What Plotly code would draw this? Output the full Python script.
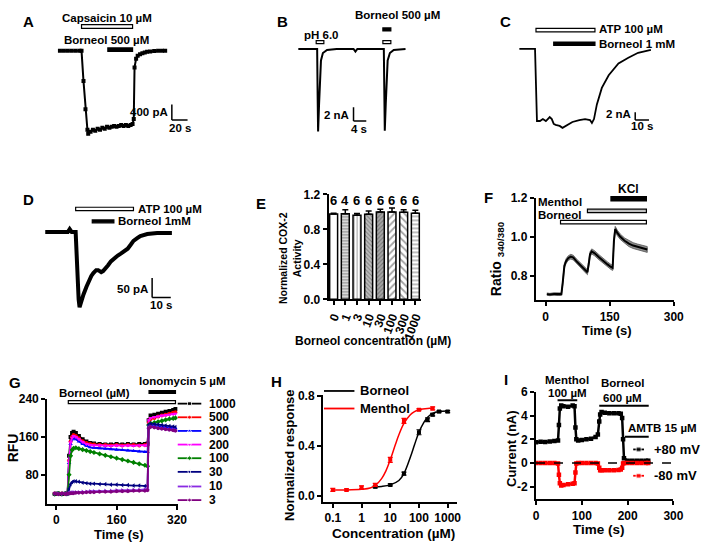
import plotly.graph_objects as go

W, H = 708, 550
FONT = "Arial, 'Liberation Sans', sans-serif"


def PX(x):
    return x / W


def PY(y):
    return 1 - y / H


# ---------------- Data ----------------
# Panel A : capsaicin current (s, pA)
A_time = [10, 15, 20, 25, 30, 35, 37.5, 40, 42.5, 45, 46, 49, 52, 55, 58, 61, 64, 67, 70, 73, 76,
          79, 82, 85, 88, 91, 94, 97, 100, 102.5, 104, 105, 107, 109, 112, 115, 118, 121, 125, 130,
          135, 140, 144]
A_current = [0, 0, 0, 0, 0, 0, 0, -775, -1500, -2025, -2125, -2075, -2025, -2050, -2000, -2025,
             -1975, -2000, -1950, -1975, -1950, -1925, -1950, -1925, -1900, -1925, -1900, -1925,
             -1900, -1875, -1750, -425, -200, -125, -90, -60, -40, -25, -15, -5, 0, 5, 5]
A_capsaicin = [37.5, 102.5]
A_borneol = [71, 102.5]

# Panel B : pH 6.0 current (s, nA)
B_time = [1.8, 7.7, 7.85, 8.0, 8.3, 8.6, 8.9, 9.5, 10.8, 13.8, 19.1, 19.7, 20.3, 28.6, 28.75,
          28.9, 29.2, 29.5, 29.8, 30.5, 31.7, 35.4]
B_current = [0, 0, -6.7, -12.1, -8.1, -3.9, -1.7, -0.6, -0.15, 0, 0, -0.4, 0, 0, -6.7, -12.0,
             -8.1, -3.9, -1.7, -0.6, -0.15, 0]
B_ph = [7.4, 9.8]
B_borneol = [28.3, 30.8]

# Panel C : ATP current (s, nA)
C_time = [4.3, 15.7, 16.4, 17.1, 19.3, 21.4, 23.6, 26.4, 27.9, 29.3, 30.7, 33.6, 35.7, 37.9,
          42.9, 47.9, 52.1, 55.7, 57.1, 58.6, 60.7, 64.3, 69.3, 76.4, 83.6, 90.7, 100]
C_current = [0, 0, -9.25, -18.5, -18.5, -18, -18.5, -17.5, -18, -19.25, -19.5, -19.75, -20.25,
             -19.75, -18.75, -18.25, -18, -18.25, -19, -18, -14.25, -10, -6.75, -3.75, -2.25, -1,
             -0.25]
C_atp = [16.4, 59.3]
C_borneol = [29.3, 59.3]

# Panel D : ATP current (s, pA)
D_time = [1.6, 7.9, 13.7, 14.7, 15.8, 17.9, 18.4, 19.5, 20.0, 21.1, 22.1, 23.7, 24.7, 26.3,
          27.4, 28.9, 30.0, 31.6, 32.6, 34.2, 35.3, 36.8, 38.4, 40.5, 42.1, 44.2, 45.8, 47.4,
          48.9, 51.1, 52.6, 56.3, 61.6, 69.5]
D_current = [0, 0, 0, 7.5, 0, 0, -72.5, -172.5, -192.5, -172.5, -160, -140, -127.5, -112.5,
             -105, -97.5, -97.5, -102.5, -100, -92.5, -85, -75, -67.5, -60, -55, -47.5, -42.5,
             -32.5, -22.5, -15, -10, -5, -2.5, -2.5]
D_atp = [17.9, 48.9]
D_borneol = [26.8, 38.4]

# Panel E : COX-2 activity
E_conc = ["0", "1", "3", "10", "30", "100", "300", "1000"]
E_activity = [0.975, 0.98, 0.963, 0.974, 1.0, 1.0, 0.996, 0.985]
E_sem = [0.01, 0.045, 0.02, 0.035, 0.03, 0.045, 0.03, 0.035]
E_n = [6, 4, 6, 6, 6, 6, 6, 6]

# Panel F : Ratio 340/380
F_time = [3, 10, 20, 30, 37, 40, 44, 48, 53, 59, 65, 72, 80, 88, 96, 98, 101, 104, 108, 115,
          125, 135, 145, 153, 157, 160, 163, 168, 175, 185, 195, 205, 215, 225, 238]
F_ratio = [0.705, 0.703, 0.706, 0.704, 0.705, 0.76, 0.85, 0.875, 0.89, 0.898, 0.893, 0.875,
           0.858, 0.84, 0.822, 0.818, 0.86, 0.91, 0.925, 0.915, 0.895, 0.875, 0.858, 0.845, 0.84,
           0.98, 1.04, 1.02, 1.0, 0.98, 0.965, 0.955, 0.948, 0.942, 0.935]
F_sem = [0.006, 0.006, 0.006, 0.006, 0.006, 0.01, 0.012, 0.012, 0.012, 0.012, 0.012, 0.012,
         0.012, 0.012, 0.013, 0.013, 0.013, 0.013, 0.013, 0.013, 0.013, 0.013, 0.013, 0.013,
         0.013, 0.014, 0.014, 0.014, 0.014, 0.014, 0.015, 0.015, 0.015, 0.015, 0.015]
F_borneol = [35, 236]
F_menthol = [98, 236]
F_kcl = [153, 236]

# Panel G : RFU
G_time = [-4, 5, 15, 25, 30, 34, 38, 42, 46, 52, 60, 70, 80, 90, 100, 115, 130, 145, 160, 175,
          190, 205, 220, 235, 242, 245, 250, 260, 270, 280, 290, 300, 310, 316]
G_labels = ["1000", "500", "300", "200", "100", "30", "10", "3"]
G_1000 = [39, 40, 39, 40, 41, 120, 160, 168, 171, 168, 162, 155, 150, 147, 146, 145, 144, 144,
          145, 144, 145, 144, 145, 145, 146, 195, 205, 207, 209, 211, 213, 215, 217, 219]
G_500 = [40, 39, 40, 39, 41, 110, 150, 160, 164, 162, 157, 151, 147, 145, 144, 143, 143, 142,
         143, 142, 143, 143, 142, 143, 143, 190, 198, 200, 203, 205, 207, 209, 211, 212]
G_300 = [39, 40, 39, 40, 40, 105, 145, 155, 158, 155, 150, 145, 141, 138, 137, 136, 135, 134,
         133, 132, 131, 130, 129, 128, 128, 180, 184, 183, 182, 181, 180, 179, 178, 178]
G_200 = [40, 39, 40, 40, 41, 108, 148, 158, 162, 160, 155, 149, 145, 143, 142, 142, 141, 141,
         142, 141, 142, 141, 142, 142, 142, 195, 200, 202, 203, 205, 206, 207, 208, 209]
G_100 = [39, 40, 39, 40, 40, 80, 120, 132, 136, 137, 135, 133, 131, 129, 127, 124, 121, 118,
         115, 112, 109, 106, 103, 100, 98, 185, 188, 190, 192, 194, 196, 198, 199, 200]
G_30 = [40, 39, 40, 39, 40, 50, 60, 64, 66, 66, 65, 63, 62, 61, 61, 60, 60, 59, 59, 58, 58, 57,
        57, 56, 56, 185, 188, 187, 186, 185, 184, 183, 182, 181]
G_10 = [40, 40, 39, 40, 40, 41, 42, 42, 43, 43, 43, 44, 44, 45, 45, 45, 46, 46, 47, 47, 47, 48,
        48, 49, 49, 180, 182, 181, 179, 178, 177, 176, 175, 174]
G_3 = [40, 39, 40, 39, 40, 40, 41, 41, 41, 42, 42, 42, 43, 43, 43, 44, 44, 44, 45, 45, 45, 46,
       46, 46, 47, 178, 181, 180, 178, 177, 176, 175, 174, 173]
G_series = [G_1000, G_500, G_300, G_200, G_100, G_30, G_10, G_3]
G_borneol = [32, 316]
G_ionomycin = [246, 316]

# Panel H : concentration response
H_menthol_conc = [0.1, 0.3, 1, 3, 10, 30, 100, 300]
H_menthol_resp = [0.05, 0.05, 0.07, 0.09, 0.29, 0.60, 0.69, 0.70]
H_menthol_err = [0.012, 0.008, 0.012, 0.012, 0.02, 0.02, 0.008, 0.012]
H_borneol_conc = [3, 10, 30, 100, 200, 300, 500, 1000]
H_borneol_resp = [0.075, 0.09, 0.18, 0.51, 0.61, 0.65, 0.675, 0.675]
H_borneol_err = [0.008, 0.008, 0.012, 0.02, 0.015, 0.01, 0.008, 0.008]
H_menthol_fit_conc = [0.1, 0.3, 1, 2, 3, 5, 7, 10, 15, 20, 30, 50, 70, 100, 200, 300]
H_menthol_fit_resp = [0.05, 0.05, 0.055, 0.065, 0.085, 0.14, 0.2, 0.29, 0.41, 0.49, 0.58, 0.65,
                      0.675, 0.69, 0.70, 0.70]
H_borneol_fit_conc = [3, 5, 10, 20, 30, 50, 70, 100, 150, 200, 300, 500, 1000]
H_borneol_fit_resp = [0.075, 0.078, 0.09, 0.125, 0.18, 0.31, 0.41, 0.51, 0.59, 0.63, 0.66,
                      0.675, 0.68]

# Panel I : current at +/-80 mV
I_time = [0, 10, 20, 30, 40, 48, 50, 52, 55, 60, 70, 80, 84, 86, 88, 92, 100, 110, 120, 130,
          135, 138, 140, 143, 150, 160, 170, 180, 185, 188, 190, 192, 200, 210, 220, 230, 240, 245]
I_pos80 = [1.75, 1.8, 1.78, 1.82, 1.85, 1.9, 3.2, 4.6, 4.85, 4.8, 4.75, 4.85, 4.8, 3.0, 2.0,
           1.9, 1.95, 2.0, 2.05, 2.2, 2.4, 3.5, 4.1, 4.3, 4.25, 4.2, 4.2, 4.2, 4.15, 3.8, 2.0, 0.4,
           0.2, 0.2, 0.2, 0.2, 0.2, 0.2]
I_neg80 = [0, 0, 0, 0, 0, -0.05, -1.0, -1.7, -1.9, -1.85, -1.8, -1.75, -1.7, -0.8, -0.05, 0, 0,
           0, 0, 0, -0.05, -0.4, -0.6, -0.6, -0.62, -0.6, -0.6, -0.58, -0.55, -0.4, -0.05, 0, 0,
           0, 0, 0, 0, 0]
I_menthol = [47, 90]
I_borneol = [138, 246]
I_amtb = [194, 246]

# ---------------- Figure ----------------
fig = go.Figure()
layout = dict(width=W, height=H, margin=dict(l=0, r=0, t=0, b=0), paper_bgcolor="white",
              plot_bgcolor="rgba(0,0,0,0)", showlegend=False,
              font=dict(family=FONT, size=12, color="black", weight="bold"))
ann = []
shapes = []


def sfx(n):
    return "" if n == 1 else str(n)


def add_hidden(n, xpx, ypx, xr, yr):
    layout["xaxis" + sfx(n)] = dict(domain=[PX(xpx[0]), PX(xpx[1])], range=xr, visible=False,
                                    anchor="y" + sfx(n), fixedrange=True)
    layout["yaxis" + sfx(n)] = dict(domain=[PY(ypx[1]), PY(ypx[0])], range=yr, visible=False,
                                    anchor="x" + sfx(n), fixedrange=True)


TICKFONT = dict(family=FONT, size=12, color="black", weight="bold")
AXCOMMON = dict(showline=True, linecolor="black", linewidth=2, ticks="outside", ticklen=4,
                tickwidth=2, tickcolor="black", showgrid=False, zeroline=False,
                tickfont=TICKFONT, fixedrange=True)


def add_visible(n, xpx, ypx, xr, yr, xt=None, xtt=None, yt=None, ytt=None, xtype="linear",
                xangle=0):
    xa = dict(domain=[PX(xpx[0]), PX(xpx[1])], range=xr, type=xtype, anchor="y" + sfx(n),
              tickangle=xangle, **AXCOMMON)
    if xt is not None:
        xa.update(tickmode="array", tickvals=xt, ticktext=xtt)
    ya = dict(domain=[PY(ypx[1]), PY(ypx[0])], range=yr, anchor="x" + sfx(n),
              tickmode="array", tickvals=yt, ticktext=ytt, **AXCOMMON)
    layout["xaxis" + sfx(n)] = xa
    layout["yaxis" + sfx(n)] = ya


def txt(s, x, y, size=11.5, xanchor="center", angle=0, color="black"):
    ann.append(dict(text=s, x=PX(x), y=PY(y), xref="paper", yref="paper", showarrow=False,
                    xanchor=xanchor, yanchor="middle", textangle=angle,
                    font=dict(family=FONT, size=size, color=color, weight="bold")))


def bar_rect(n, t, ytop, ybot, fill="white"):
    shapes.append(dict(type="rect", xref="x" + sfx(n), yref="paper", x0=t[0], x1=t[1],
                       y0=PY(ybot), y1=PY(ytop), fillcolor=fill,
                       line=dict(color="black", width=1.2)))


def scale_bar(n, x0, y0, dx, dy):
    xr, yr = "x" + sfx(n), "y" + sfx(n)
    shapes.append(dict(type="line", xref=xr, yref=yr, x0=x0, x1=x0, y0=y0, y1=y0 + dy,
                       line=dict(color="black", width=1.5)))
    shapes.append(dict(type="line", xref=xr, yref=yr, x0=x0, x1=x0 + dx, y0=y0, y1=y0,
                       line=dict(color="black", width=1.5)))


# Panel letters
for s, x, y in [("A", 26, 15), ("B", 285, 15), ("C", 512, 15), ("D", 26, 198),
                ("E", 263, 202), ("F", 495, 195), ("G", 12, 385), ("H", 279, 384),
                ("I", 512, 382)]:
    txt(s, x, y, size=15)

# ---- A
add_hidden(1, (50, 200), (0, 140), [0, 187.5], [-2375, 1125])
fig.add_trace(go.Scatter(x=A_time, y=A_current, xaxis="x", yaxis="y", mode="lines+markers",
                         line=dict(color="black", width=2),
                         marker=dict(symbol="square", size=4, color="black")))
bar_rect(1, A_capsaicin, 18, 22)
bar_rect(1, A_borneol, 42, 45.5, "black")
scale_bar(1, 152.5, -1775, 20, 400)
txt("Capsaicin 10 µM", 106, 11)
txt("Borneol 500 µM", 105, 34)
txt("400 pA", 170, 108, xanchor="right")
txt("20 s", 180, 124)

# ---- B
add_hidden(2, (295, 420), (0, 140), [0, 125 / 3.25], [-97 / 7, 43 / 7])
fig.add_trace(go.Scatter(x=B_time, y=B_current, xaxis="x2", yaxis="y2", mode="lines",
                         line=dict(color="black", width=2)))
bar_rect(2, B_ph, 34.5, 37.5)
bar_rect(2, B_borneol, 21.5, 24.5, "black")
bar_rect(2, B_borneol, 34.5, 37.5)
scale_bar(2, 19.1, -10.57, 4, 2)
txt("Borneol 500 µM", 402, 8)
txt("pH 6.0", 324, 29)
txt("2 nA", 355, 111, xanchor="right")
txt("4 s", 363, 125)

# ---- C
add_hidden(3, (520, 670), (0, 140), [0, 150 / 1.4], [-24.25, 10.75])
fig.add_trace(go.Scatter(x=C_time, y=C_current, xaxis="x3", yaxis="y3", mode="lines",
                         line=dict(color="black", width=1.8)))
bar_rect(3, C_atp, 22, 25.5)
bar_rect(3, C_borneol, 36, 39.5, "black")
scale_bar(3, 88.6, -18.25, 10, 2)
txt("ATP 100 µM", 605, 23, xanchor="left")
txt("Borneol 1 mM", 605, 38, xanchor="left")
txt("2 nA", 642, 110, xanchor="right")
txt("10 s", 651, 122)

# ---- D
add_hidden(4, (40, 180), (180, 330), [0, 140 / 1.9], [-247.5, 127.5])
fig.add_trace(go.Scatter(x=D_time, y=D_current, xaxis="x4", yaxis="y4", mode="lines",
                         line=dict(color="black", width=4)))
bar_rect(4, D_atp, 205.5, 209)
bar_rect(4, D_borneol, 218.5, 221.5, "black")
scale_bar(4, 58.9, -167.5, 10, 50)
txt("ATP 100 µM", 135, 207, xanchor="left")
txt("Borneol 1mM", 115, 220, xanchor="left")
txt("50 pA", 150, 289, xanchor="right")
txt("10 s", 161, 306)

# ---- E
add_visible(5, (331.7, 426), (192.3, 300), [-0.43, 7.5], [0, 1.2],
            yt=[0, 0.4, 0.8, 1.2], ytt=["0.0", "0.4", "0.8", "1.2"], xtype="category",
            xangle=-70)
layout["xaxis5"].update(tickmode="linear", tick0=0, dtick=1,
                        tickfont=dict(family=FONT, size=12, color="black", weight="bold"))
fig.add_trace(go.Bar(
    x=E_conc, y=E_activity, xaxis="x5", yaxis="y5", width=0.68,
    marker=dict(
        color=["white", "#d9d9d9", "white", "#bdbdbd", "#a6a6a6", "white", "white", "white"],
        line=dict(color="black", width=1.5),
        pattern=dict(shape=["", "-", "|", "\\", "/", "/", "\\", "-"],
                     fgcolor=["black", "#666", "#999", "#666", "#777", "black", "black",
                              "black"],
                     bgcolor=["white", "#e0e0e0", "white", "#c8c8c8", "#a8a8a8", "white",
                              "white", "white"],
                     size=[6, 3, 3, 3, 3, 5, 5, 4], solidity=0.35)),
    error_y=dict(type="data", symmetric=False, array=E_sem, arrayminus=[0] * len(E_sem),
                 color="black", thickness=1.5, width=3)))
for i, n in enumerate(E_n):
    ann.append(dict(text=str(n), x=i, y=PY(198.5), xref="x5", yref="paper", showarrow=False,
                    xanchor="center", yanchor="middle",
                    font=dict(family=FONT, size=13, color="black", weight="bold")))
txt("Normalized COX-2<br>Activity", 293, 258, size=10.5, angle=-90)
txt("Borneol concentration (µM)", 377, 343, size=12)

# ---- F
add_visible(6, (542.7, 683.3), (196, 301), [-23, 300], [0.673, 1.2],
            xt=[0, 150, 300], xtt=["0", "150", "300"],
            yt=[0.8, 1.0, 1.2], ytt=["0.8", "1.0", "1.2"])
F_upper = [m + s for m, s in zip(F_ratio, F_sem)]
F_lower = [m - s for m, s in zip(F_ratio, F_sem)]
fig.add_trace(go.Scatter(x=F_time + F_time[::-1], y=F_upper + F_lower[::-1], xaxis="x6",
                         yaxis="y6", fill="toself", fillcolor="#8c8c8c", mode="lines",
                         line=dict(color="#555555", width=0.8)))
fig.add_trace(go.Scatter(x=F_time, y=F_ratio, xaxis="x6", yaxis="y6", mode="lines",
                         line=dict(color="black", width=2)))
bar_rect(6, F_borneol, 219, 222.5)
bar_rect(6, F_menthol, 207.5, 211, "#c0c0c0")
bar_rect(6, F_kcl, 194.5, 199, "black")
txt("KCl", 637, 187, size=12)
txt("Menthol", 592, 200, size=11.5, xanchor="right")
txt("Borneol", 591, 213, size=11.5, xanchor="right")
txt("Ratio <sub>340/380</sub>", 504, 258, size=14, angle=-90)
txt("Time (s)", 615, 332, size=13)

# ---- G
add_visible(7, (45, 178), (402.3, 510), [-24, 322], [18, 240],
            xt=[0, 160, 320], xtt=["0", "160", "320"],
            yt=[80, 160, 240], ytt=["80", "160", "240"])
G_colors = ["black", "#ff0000", "#0000ff", "#ff00ff", "#008000", "#000080", "#8a2be2",
            "#800080"]
G_symbols = ["square", "circle", "triangle-up", "triangle-down", "diamond", "triangle-left",
             "triangle-right", "hexagon"]
for lab, vals, col, sym in zip(G_labels, G_series, G_colors, G_symbols):
    fig.add_trace(go.Scatter(x=G_time, y=vals, xaxis="x7", yaxis="y7", mode="lines+markers",
                             name=lab, line=dict(color=col, width=1.8),
                             marker=dict(symbol=sym, size=4, color=col)))
shapes.append(dict(type="rect", xref="x7", yref="paper", x0=G_borneol[0], x1=G_borneol[1],
                   y0=PY(407), y1=PY(404), fillcolor="white",
                   line=dict(color="black", width=1.2)))
bar_rect(7, G_ionomycin, 393.5, 396.5, "black")
txt("Borneol (µM)", 93, 396, size=11.5)
txt("Ionomycin 5 µM", 183, 384, size=11.5)
txt("RFU", 11, 452, size=14, angle=-90)
txt("Time (s)", 118, 541, size=13)

# ---- H
add_visible(8, (326, 462), (398, 508), [-1.342, 3.308], [-0.047, 0.808],
            xt=[0.1, 1, 10, 100, 1000], xtt=["0.1", "1", "10", "100", "1000"],
            yt=[0, 0.4, 0.8], ytt=["0.0", "0.4", "0.8"], xtype="log")
fig.add_trace(go.Scatter(x=H_borneol_fit_conc, y=H_borneol_fit_resp, xaxis="x8", yaxis="y8",
                         mode="lines", line=dict(color="black", width=1.5, shape="spline")))
fig.add_trace(go.Scatter(x=H_menthol_fit_conc, y=H_menthol_fit_resp, xaxis="x8", yaxis="y8",
                         mode="lines", line=dict(color="#ff0000", width=1.5, shape="spline")))
fig.add_trace(go.Scatter(x=H_borneol_conc, y=H_borneol_resp, xaxis="x8", yaxis="y8",
                         mode="markers", marker=dict(symbol="square", size=4, color="black"),
                         error_y=dict(type="data", array=H_borneol_err, color="black",
                                      thickness=1.2, width=2.5)))
fig.add_trace(go.Scatter(x=H_menthol_conc, y=H_menthol_resp, xaxis="x8", yaxis="y8",
                         mode="markers", marker=dict(symbol="square", size=4, color="#ff0000"),
                         error_y=dict(type="data", array=H_menthol_err, color="#ff0000",
                                      thickness=1.2, width=2.5)))
txt("Normalized response", 292, 460, size=13, angle=-90)
txt("Concentration (µM)", 398, 540, size=13.5)

# ---- I
add_visible(9, (543, 683), (395, 505), [0, 300], [-3.05, 6],
            xt=[0, 100, 200, 300], xtt=["0", "100", "200", "300"],
            yt=[-2, 0, 2, 4, 6], ytt=["-2", "0", "2", "4", "6"])
shapes.append(dict(type="line", xref="x9", yref="y9", x0=0, x1=300, y0=0, y1=0,
                   line=dict(color="black", width=1.5, dash="dash")))
fig.add_trace(go.Scatter(x=I_time, y=I_pos80, xaxis="x9", yaxis="y9", mode="lines+markers",
                         line=dict(color="black", width=2.5),
                         marker=dict(symbol="square", size=4.5, color="black")))
fig.add_trace(go.Scatter(x=I_time, y=I_neg80, xaxis="x9", yaxis="y9", mode="lines+markers",
                         line=dict(color="#ff0000", width=2.5),
                         marker=dict(symbol="square", size=4.5, color="#ff0000")))
for t, yv in [(I_menthol, 5.3), (I_borneol, 4.83), (I_amtb, 2.22)]:
    shapes.append(dict(type="line", xref="x9", yref="y9", x0=t[0], x1=t[1], y0=yv, y1=yv,
                       line=dict(color="black", width=2)))
txt("Menthol", 575, 383, size=11.5)
txt("100 µM", 575, 396, size=11.5)
txt("Borneol", 631, 386, size=11.5)
txt("600 µM", 631, 401, size=11.5)
txt("AMTB 15 µM", 635, 432, size=11.5, xanchor="left")
txt("Current (nA)", 518, 453, size=13, angle=-90)
txt("Time (s)", 607, 536, size=13.5)

# ---- overlay axis for hand-drawn legends (pixel coordinates)
layout["xaxis10"] = dict(domain=[0, 1], range=[0, W], visible=False, anchor="y10",
                         fixedrange=True)
layout["yaxis10"] = dict(domain=[0, 1], range=[H, 0], visible=False, anchor="x10",
                         fixedrange=True)


def legend_item(x0, x1, y, col, sym, label, tx, size=12, msize=5):
    fig.add_trace(go.Scatter(x=[x0, (x0 + x1) / 2, x1], y=[y, y, y], xaxis="x10", yaxis="y10",
                             mode="lines+markers", line=dict(color=col, width=1.8),
                             marker=dict(symbol=sym, size=[0, msize, 0], color=col)))
    txt(label, tx, y, size=size, xanchor="left")


G_leg_y = [407, 421, 435, 449, 463, 477, 492, 506]
for lab, col, sym, yy in zip(G_labels, G_colors, G_symbols, G_leg_y):
    legend_item(178, 202, yy, col, sym, lab, 208, size=12, msize=4)

legend_item(327, 358, 394, "black", "square", "Borneol", 362, size=13, msize=0)
legend_item(327, 358, 412, "#ff0000", "square", "Menthol", 362, size=13, msize=0)
legend_item(642, 653, 454, "black", "square", "+80 mV", 661, size=13, msize=5)
legend_item(642, 653, 481, "#ff0000", "square", "-80 mV", 661, size=13, msize=5)

layout["annotations"] = ann
layout["shapes"] = shapes
fig.update_layout(**layout)
fig.write_html("out.html", config={"displayModeBar": False, "staticPlot": True},
               post_script="document.body.style.margin='0px';"
                           "document.body.style.overflow='hidden';")
